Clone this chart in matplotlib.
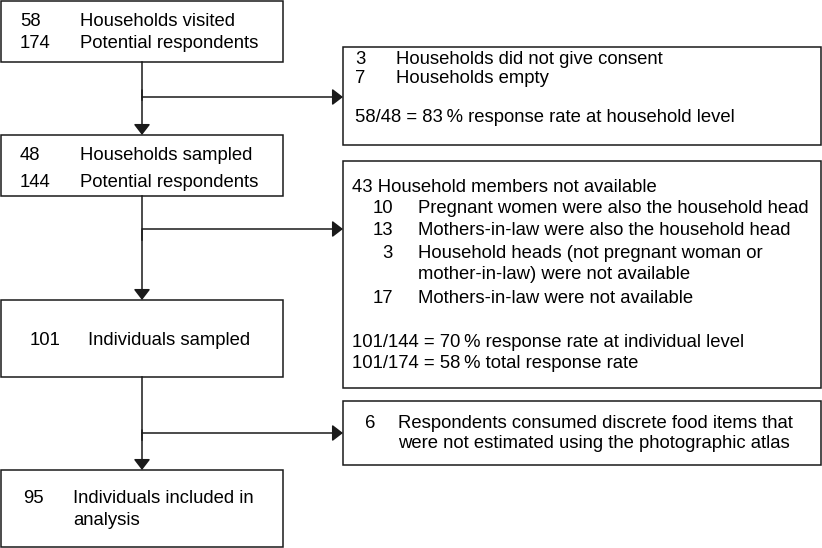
import matplotlib
matplotlib.use("Agg")
import matplotlib.pyplot as plt
from matplotlib.patches import Rectangle
from matplotlib import font_manager

W, H = 822, 548
fig = plt.figure(figsize=(W / 100, H / 100), dpi=100)
ax = fig.add_axes([0, 0, 1, 1])
ax.set_xlim(0, W)
ax.set_ylim(H, 0)
ax.axis("off")

names = {f.name for f in font_manager.fontManager.ttflist}
FONT = "Liberation Sans" if "Liberation Sans" in names else "DejaVu Sans"

# ---- data: flow counts and labels ----
main_counts = [["58", "174"], ["48", "144"], ["101"], ["95"]]
main_labels = [["Households visited", "Potential respondents"],
               ["Households sampled", "Potential respondents"],
               ["Individuals sampled"],
               ["Individuals included in", "analysis"]]

excl1_counts = ["3", "7"]
excl1_labels = ["Households did not give consent", "Households empty"]
excl1_rate = "58/48 = 83\u2009% response rate at household level"

excl2_total = "43 Household members not available"
excl2_counts = ["10", "13", "3", "", "17"]
excl2_labels = ["Pregnant women were also the household head",
                "Mothers-in-law were also the household head",
                "Household heads (not pregnant woman or",
                "mother-in-law) were not available",
                "Mothers-in-law were not available"]
excl2_rates = ["101/144 = 70\u2009% response rate at individual level",
               "101/174 = 58\u2009% total response rate"]

excl3_counts = ["6", ""]
excl3_labels = ["Respondents consumed discrete food items that",
                "were not estimated using the photographic atlas"]

FS = 13.3
LW = 1.1
EC = "#1a1a1a"

def box(x0, y0, x1, y1):
    ax.add_patch(Rectangle((x0, y0), x1 - x0, y1 - y0, fill=False,
                           edgecolor=EC, lw=LW))

def txt(x, y, s, ha="left", size=FS):
    ax.text(x, y, s, ha=ha, va="baseline", fontsize=size,
            family=FONT, color="black")

def arrow(x0, y0, x1, y1):
    ax.annotate("", xy=(x1, y1), xytext=(x0, y0),
                arrowprops=dict(arrowstyle="-|>,head_length=0.65,head_width=0.5",
                                mutation_scale=10, lw=LW, color=EC,
                                shrinkA=0, shrinkB=0))

# left column boxes
LX0, LX1 = 1, 283
left_boxes = [(1, 62), (135, 196), (300, 377), (470, 547)]
for (y0, y1) in left_boxes:
    box(LX0, y0, LX1, y1)

# box 1
txt(20, 26.5, main_counts[0][0]); txt(80, 26.5, main_labels[0][0])
txt(20, 48.5, main_counts[0][1]); txt(80, 48.5, main_labels[0][1])
# box 2
txt(20, 160, main_counts[1][0]); txt(80, 160, main_labels[1][0])
txt(20, 187, main_counts[1][1]); txt(80, 187, main_labels[1][1])
# box 3
txt(30, 345, main_counts[2][0]); txt(88, 345, main_labels[2][0])
# box 4
txt(23, 503, main_counts[3][0])
txt(73, 503, main_labels[3][0])
txt(73, 525, main_labels[3][1])

# right column boxes
RX0, RX1 = 343, 821
box(RX0, 47, RX1, 145)
box(RX0, 161, RX1, 388)
box(RX0, 401, RX1, 465)

# right box 1
for c, l, y in zip(excl1_counts, excl1_labels, [64, 83]):
    txt(355, y, c); txt(396, y, l)
txt(355, 122, excl1_rate)

# right box 2
txt(352, 192, excl2_total)
for c, l, y in zip(excl2_counts, excl2_labels, [213, 235, 258, 279, 303]):
    if c:
        txt(393, y, c, ha="right")
    txt(418, y, l)
for r, y in zip(excl2_rates, [347, 368]):
    txt(352, y, r)

# right box 3
for c, l, y in zip(excl3_counts, excl3_labels, [428, 448]):
    if c:
        txt(365, y, c)
    txt(398, y, l)

# connectors
VX = 142
ax.plot([VX, VX], [62, 100], color=EC, lw=LW)
arrow(VX, 90, VX, 135)
arrow(VX, 97, RX0, 97)
ax.plot([VX, VX], [196, 240], color=EC, lw=LW)
arrow(VX, 230, VX, 300)
arrow(VX, 229, RX0, 229)
ax.plot([VX, VX], [377, 440], color=EC, lw=LW)
arrow(VX, 430, VX, 470)
arrow(VX, 433, RX0, 433)

fig.savefig("out.png", dpi=100, facecolor="white")
